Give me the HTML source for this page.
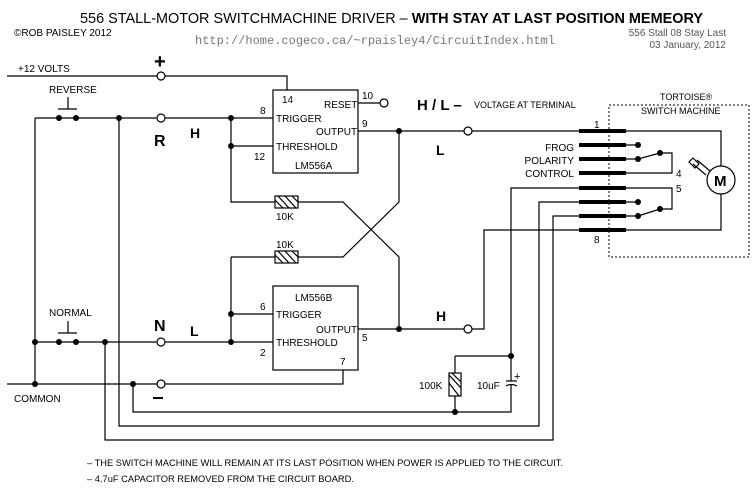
<!DOCTYPE html>
<html><head><meta charset="utf-8"><style>
html,body{margin:0;padding:0;background:#fff;}
svg{display:block;font-family:"Liberation Sans",sans-serif;}
</style></head><body>
<svg width="756" height="500" viewBox="0 0 756 500" xmlns="http://www.w3.org/2000/svg">
<rect width="756" height="500" fill="#fff"/>
<g fill="#000">
<text x="80" y="23" font-size="15" textLength="623" lengthAdjust="spacingAndGlyphs">556 STALL-MOTOR SWITCHMACHINE DRIVER – <tspan font-weight="bold">WITH STAY AT LAST POSITION MEMEORY</tspan></text>
<text x="14" y="36" font-size="10">©ROB PAISLEY 2012</text>
<text x="195" y="44" font-size="12" fill="#777" font-family="Liberation Mono,monospace">http://home.cogeco.ca/~rpaisley4/CircuitIndex.html</text>
<text x="726" y="36" font-size="10" fill="#555" text-anchor="end">556 Stall 08  Stay Last</text>
<text x="726" y="48" font-size="10" fill="#555" text-anchor="end">03 January, 2012</text>
<text x="18" y="72" font-size="10">+12 VOLTS</text>
<text x="49" y="93" font-size="10">REVERSE</text>
<text x="49" y="316" font-size="10">NORMAL</text>
<text x="14" y="402" font-size="10">COMMON</text>
<text x="154" y="68" font-size="20" font-weight="bold">+</text>
<rect x="153" y="397" width="10" height="2"/>
<text x="154" y="146" font-size="16" font-weight="bold">R</text>
<text x="190" y="138" font-size="14" font-weight="bold">H</text>
<text x="154" y="331" font-size="16" font-weight="bold">N</text>
<text x="190" y="336" font-size="14" font-weight="bold">L</text>
<text x="417" y="110" font-size="15" font-weight="bold">H / L –</text>
<text x="474" y="108" font-size="9">VOLTAGE AT TERMINAL</text>
<text x="436" y="155" font-size="14" font-weight="bold">L</text>
<text x="436" y="321" font-size="14" font-weight="bold">H</text>
<text x="282" y="103" font-size="10">14</text>
<text x="324" y="108" font-size="10">RESET</text>
<text x="276" y="122" font-size="10">TRIGGER</text>
<text x="316" y="135" font-size="10">OUTPUT</text>
<text x="276" y="150" font-size="10">THRESHOLD</text>
<text x="295" y="169" font-size="10">LM556A</text>
<text x="260" y="114" font-size="10">8</text>
<text x="254" y="160" font-size="10">12</text>
<text x="362" y="99" font-size="10">10</text>
<text x="362" y="127" font-size="10">9</text>
<text x="295" y="301" font-size="10">LM556B</text>
<text x="276" y="318" font-size="10">TRIGGER</text>
<text x="316" y="333" font-size="10">OUTPUT</text>
<text x="276" y="346" font-size="10">THRESHOLD</text>
<text x="260" y="310" font-size="10">6</text>
<text x="260" y="356" font-size="10">2</text>
<text x="340" y="365" font-size="10">7</text>
<text x="362" y="341" font-size="10">5</text>
<text x="276" y="220" font-size="10">10K</text>
<text x="276" y="248" font-size="10">10K</text>
<text x="419" y="389" font-size="10">100K</text>
<text x="477" y="389" font-size="10">10uF</text>
<text x="514" y="380" font-size="11">+</text>
<text x="660" y="100" font-size="9">TORTOISE®</text>
<text x="641" y="114" font-size="9">SWITCH MACHINE</text>
<text x="594" y="128" font-size="10">1</text>
<text x="594" y="243" font-size="10">8</text>
<text x="676" y="177" font-size="10">4</text>
<text x="676" y="192" font-size="10">5</text>
<text x="574" y="151" font-size="10" text-anchor="end">FROG</text>
<text x="574" y="164" font-size="10" text-anchor="end">POLARITY</text>
<text x="574" y="177" font-size="10" text-anchor="end">CONTROL</text>
<text x="87" y="466" font-size="9" textLength="476" lengthAdjust="spacingAndGlyphs">– THE SWITCH MACHINE WILL REMAIN AT ITS LAST POSITION WHEN POWER IS APPLIED TO THE CIRCUIT.</text>
<text x="87" y="482" font-size="9" textLength="267" lengthAdjust="spacingAndGlyphs">– 4.7uF CAPACITOR REMOVED FROM THE CIRCUIT BOARD.</text>
<text x="714" y="186" font-size="15" font-weight="bold">M</text>
</g>
<g stroke="#000" stroke-width="1.2" fill="none">
<rect x="273" y="90" width="85" height="83"/>
<rect x="273" y="286" width="85" height="84"/>
<path d="M7 76H287V90"/>
<path d="M35 118H273M35 118V384M231 118V202H275M298 202H343L399 257V329"/>
<path d="M231 146H273"/>
<path d="M231 257V342M231 314H273M231 257H275M298 257H343L399 202V131"/>
<path d="M358 103H380M358 131H579M626 131H721V166M721 194V230H626"/>
<path d="M35 342H273M7 384H343V370"/>
<path d="M358 329H464M472 329H484V230H579"/>
<path d="M119 118V426H539V202H579"/>
<path d="M105 342V440H553V216H579"/>
<path d="M133 384V412H511V385M511 381V188H579"/>
<path d="M455 356H511M455 356V373M455 396V412"/>
<rect x="449" y="373" width="12" height="23"/>
<path d="M449 375L461 388M449 383L459 396M452 373L461 382"/>
<rect x="275" y="196" width="23" height="12"/>
<path d="M278 196L289 208M285 196L296 208M275 200L283 208M292 196L298 202"/>
<rect x="275" y="251" width="23" height="12"/>
<path d="M278 251L289 263M285 251L296 263M275 255L283 263M292 251L298 257"/>
<path d="M58 109H77M68 97V109M58 333H77M68 321V333"/>
<path d="M626 145H638M626 159H638L660 153H672V173H626M626 188H672V209H660L638 216H626M626 202H638"/>
<circle cx="721" cy="180" r="14"/>
<path d="M710 171L697 160M706 175L693 164M693 158L689 162L695 168L699 164Z"/>
<path d="M506 381H517M506 386Q511 383 517 386"/>
</g>
<rect x="609" y="105" width="140" height="152" fill="none" stroke="#000" stroke-width="1" stroke-dasharray="2,2"/>
<g fill="#000">
<rect x="579" y="129" width="47" height="4"/><rect x="579" y="143" width="47" height="4"/>
<rect x="579" y="157" width="47" height="4"/><rect x="579" y="171" width="47" height="4"/>
<rect x="579" y="186" width="47" height="4"/><rect x="579" y="200" width="47" height="4"/>
<rect x="579" y="214" width="47" height="4"/><rect x="579" y="228" width="47" height="4"/>
<circle cx="59" cy="118" r="3"/><circle cx="76" cy="118" r="3"/><circle cx="119" cy="118" r="3"/>
<circle cx="231" cy="118" r="3"/><circle cx="231" cy="146" r="3"/><circle cx="399" cy="131" r="3"/>
<circle cx="231" cy="314" r="3"/><circle cx="231" cy="342" r="3"/><circle cx="399" cy="329" r="3"/>
<circle cx="35" cy="342" r="3"/><circle cx="59" cy="342" r="3"/><circle cx="76" cy="342" r="3"/><circle cx="105" cy="342" r="3"/>
<circle cx="35" cy="384" r="3"/><circle cx="133" cy="384" r="3"/>
<circle cx="511" cy="356" r="3"/><circle cx="455" cy="412" r="3"/>
<circle cx="638" cy="145" r="3"/><circle cx="638" cy="159" r="3"/><circle cx="660" cy="153" r="3"/>
<circle cx="638" cy="202" r="3"/><circle cx="638" cy="216" r="3"/><circle cx="660" cy="209" r="3"/>
</g>
<g fill="#fff" stroke="#000" stroke-width="1.2">
<circle cx="161" cy="76" r="4"/><circle cx="161" cy="118" r="4"/><circle cx="161" cy="342" r="4"/><circle cx="161" cy="384" r="4"/>
<circle cx="384" cy="103" r="4"/><circle cx="468" cy="131" r="4"/><circle cx="468" cy="329" r="4"/>
</g>
</svg>
</body></html>
